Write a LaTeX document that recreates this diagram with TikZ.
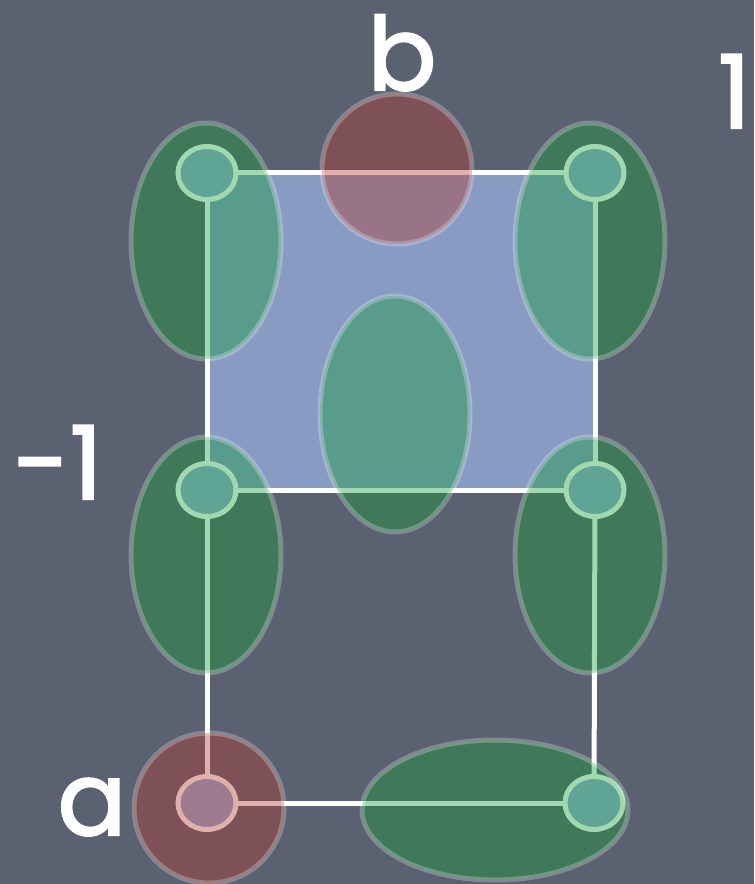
\documentclass[tikz,border=0pt]{standalone}
\usepackage{fontspec}
\setmainfont{Poppins}
\newfontfamily\lblfont{Poppins}[FakeBold=2]
\usepackage{tikz}
\usetikzlibrary{shapes.geometric}

\definecolor{board}{RGB}{90,97,112}
\definecolor{sqblue}{RGB}{135,155,195}
\definecolor{vxfill}{RGB}{143,168,213}
\definecolor{blobgreen}{RGB}{23,159,55}
\definecolor{blobred}{RGB}{180,59,47}

\begin{document}
\begin{tikzpicture}[
  x=0.02cm, y=-0.02cm,
  edge/.style={draw=white, line width=0.1cm},
  vertex/.style={ellipse, draw=white, line width=0.1cm, fill=vxfill, inner sep=0pt, minimum width=1.16cm, minimum height=1.06cm},
  blob/.style={ellipse, inner sep=0pt, line width=0.1cm, draw=white, draw opacity=0.25, fill opacity=0.4},
  greenBlob/.style={blob, fill=blobgreen, minimum width=3.0cm, minimum height=4.72cm},
  redBlob/.style={blob, circle, fill=blobred, minimum size=3.0cm},
  lbl/.style={text=white, anchor=base, font=\fontsize{58}{60}\selectfont\lblfont, inner sep=0pt}
]
\fill[board] (0,0) rectangle (754,884);
\useasboundingbox (0,0) rectangle (754,884);
\coordinate (cTL) at (207,173);
\coordinate (cTR) at (595,173);
\coordinate (cML) at (207,490);
\coordinate (cMR) at (595,490);
\coordinate (cBL) at (207,803);
\coordinate (cBR) at (594,803);
\fill[sqblue] (cTL) rectangle (cMR);
\node[vertex] (vTL) at (cTL) {};
\node[vertex] (vTR) at (cTR) {};
\node[vertex] (vML) at (cML) {};
\node[vertex] (vMR) at (cMR) {};
\node[vertex] (vBL) at (cBL) {};
\node[vertex] (vBR) at (cBR) {};
\draw[edge] (vTL) -- (vTR);
\draw[edge] (vML) -- (vMR);
\draw[edge] (vBL) -- (vBR);
\draw[edge] (vTL) -- (vML);
\draw[edge] (vML) -- (vBL);
\draw[edge] (vTR) -- (vMR);
\draw[edge] (vMR) -- (vBR);
% overlays
\node[greenBlob] (gTL) at (206,241) {};
\node[greenBlob] (gTR) at (590,241) {};
\node[greenBlob] (gMid) at (395,414) {};
\node[greenBlob] (gML) at (206,555) {};
\node[greenBlob] (gMR) at (590,555) {};
\node[greenBlob, minimum width=5.32cm, minimum height=2.8cm] (gBot) at (495,810) {};
\node[redBlob] (rTop) at (397,169) {};
\node[redBlob] (rBot) at (209,808) {};
% labels
\node[lbl] (lblB) at (402,90) {b};
\node[lbl, anchor=base east] (lblOne) at (751,128) {1};
\node[lbl] (lblMinus) at (58,499) {-1};
\node[lbl] (lblA) at (92,835) {a};
\end{tikzpicture}
\end{document}
